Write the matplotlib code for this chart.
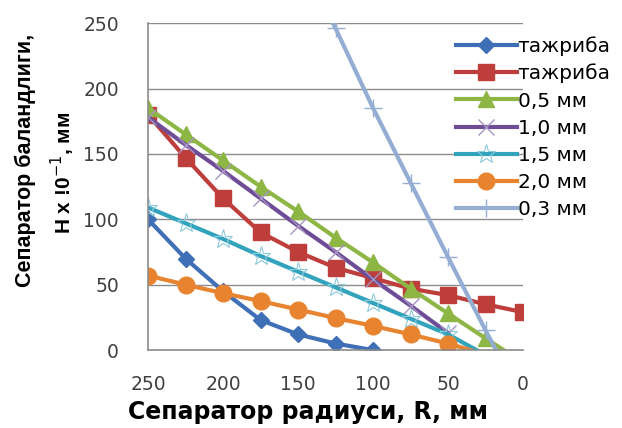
import numpy as np
import matplotlib
matplotlib.use('Agg')
import matplotlib.pyplot as plt

# radius values (mm), x axis runs from 250 down to 0
R = [250, 225, 200, 175, 150, 125, 100, 75, 50, 25, 0]

# experiment 1 (blue diamonds)
R_exp1 = [250, 225, 200, 175, 150, 125, 100]
H_exp1 = [100, 70, 45, 23, 12, 5, 0]

# experiment 2 (red squares)
R_exp2 = R
H_exp2 = [180, 147, 116, 90, 75, 63, 55, 47, 42, 35, 29]

# 0,5 mm
R_05 = [250, 225, 200, 175, 150, 125, 100, 75, 50, 25, 13]
H_05 = [185, 165, 145, 125, 106, 86, 67, 47, 28, 9, 0]

# 1,0 mm
R_10 = [250, 225, 200, 175, 150, 125, 100, 75, 50]
H_10 = [178, 157, 137, 116, 95, 75, 54, 34, 13]

# 1,5 mm
R_15 = [250, 225, 200, 175, 150, 125, 100, 75, 50, 31]
H_15 = [109, 97, 85, 72, 60, 48, 36, 24, 12, 0]

# 2,0 mm
R_20 = [250, 225, 200, 175, 150, 125, 100, 75, 50, 35]
H_20 = [57, 50, 43.5, 37.5, 31, 24.5, 18.5, 12, 5, 0]

# 0,3 mm
R_03 = [150, 125, 100, 75, 50, 25, 18]
H_03 = [303, 246, 185, 128, 71, 15, 0]

labels = ['тажриба', 'тажриба', '0,5 мм', '1,0 мм', '1,5 мм', '2,0 мм', '0,3 мм']
yticks = [0, 50, 100, 150, 200, 250]
xticks = [250, 200, 150, 100, 50, 0]

plt.rcParams['font.family'] = ['DejaVu Sans']

fig = plt.figure(figsize=(6.22, 4.28), dpi=100)
ax = fig.add_axes([0.238, 0.182, 0.603, 0.764])

lw = 3
# drawn in the same order as the legend
ax.plot(R_exp1, H_exp1, color='#3F6FB6', lw=lw, marker='D', ms=8, label=labels[0])
ax.plot(R_exp2, H_exp2, color='#BE3E3B', lw=lw, marker='s', ms=11, label=labels[1])
ax.plot(R_05, H_05, color='#8DB645', lw=lw, marker='^', ms=11, markevery=list(range(10)), label=labels[2])
ax.plot(R_10, H_10, color='#6E4C96', lw=lw, marker='x', ms=11, mew=1, mec='#A594C4', label=labels[3])
ax.plot(R_15, H_15, color='#32A3BD', lw=lw, marker='*', ms=14, mew=0.8, mfc='none', mec='#8CC9DA', markevery=list(range(9)), label=labels[4])
ax.plot(R_20, H_20, color='#E8842F', lw=lw, marker='o', ms=12, markevery=list(range(9)), label=labels[5])
ax.plot(R_03, H_03, color='#93ADD3', lw=lw, marker='+', ms=13, mew=1, mec='#93ADD3', markevery=list(range(6)), label=labels[6])

ax.set_xlim(250, 0)
ax.set_ylim(0, 250)
ax.set_xticks(xticks)
ax.set_yticks(yticks)
ax.tick_params(length=0, labelsize=13.5, colors='#404040')
ax.tick_params(axis='x', pad=18)
ax.tick_params(axis='y', pad=21)
ax.grid(axis='y', color='#8C8C8C', lw=1)
ax.set_axisbelow(True)
for s in ['top', 'right']:
    ax.spines[s].set_visible(False)
for s in ['left', 'bottom']:
    ax.spines[s].set_color('#8C8C8C')
    ax.spines[s].set_linewidth(1.2)

fig.text(0.495, 0.037, 'Сепаратор радиуси, R, мм', ha='center', va='center',
         fontsize=17, fontweight='bold')
fig.text(0.04, 0.626, 'Сепаратор баландлиги,', rotation=90, ha='center', va='center',
         fontsize=15.5, fontweight='bold', family=['Liberation Sans Narrow', 'Liberation Sans', 'DejaVu Sans'])
fig.text(0.101, 0.596, 'H x !0$^{-1}$, мм', rotation=90, ha='center', va='center',
         fontsize=15, fontweight='bold', family=['Liberation Sans Narrow', 'Liberation Sans', 'DejaVu Sans'])

leg = ax.legend(loc='upper left', bbox_to_anchor=(0.80, 0.985), frameon=False,
                fontsize=14.5, handlelength=3.0, handletextpad=0.05, labelspacing=0.4,
                borderaxespad=0)

fig.savefig('out.png', dpi=100)
